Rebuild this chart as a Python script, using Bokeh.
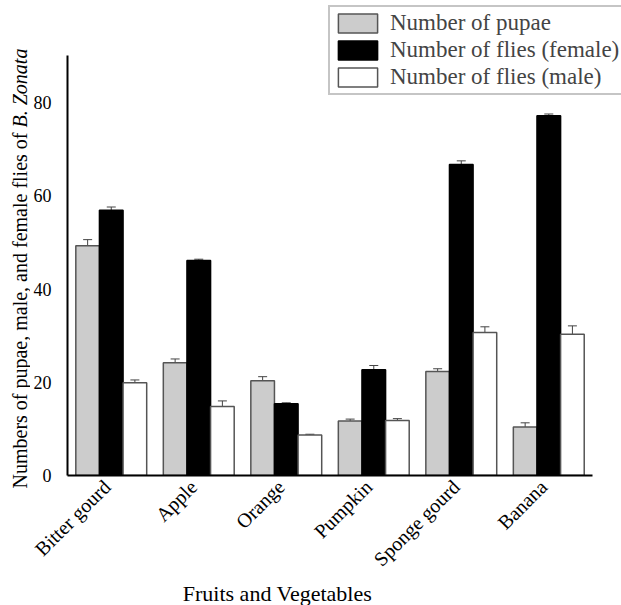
import math
from bokeh.plotting import figure
from bokeh.layouts import row, column
from bokeh.models import (ColumnDataSource, Range1d, FixedTicker,
                          Whisker, TeeHead, Legend, LegendItem)
from bokeh.core.properties import value
from bokeh.transform import dodge
from bokeh.embed import file_html
from bokeh.resources import INLINE

categories = ["Bitter gourd", "Apple", "Orange", "Pumpkin", "Sponge gourd", "Banana"]
pupae = [49.3, 24.2, 20.3, 11.7, 22.3, 10.4]
pupae_err = [1.3, 0.8, 0.9, 0.4, 0.6, 0.9]
female = [56.9, 46.1, 15.4, 22.7, 66.7, 77.2]
female_err = [0.7, 0.3, 0.2, 0.9, 0.8, 0.35]
male = [19.9, 14.8, 8.7, 11.8, 30.7, 30.3]
male_err = [0.6, 1.2, 0.15, 0.4, 1.2, 1.8]
y_ticks = [0, 20, 40, 60, 80]

series_names = ["Number of pupae", "Number of flies (female)", "Number of flies (male)"]
y_title_main = "Numbers of pupae, male, and female flies of "
y_title_species = "B. Zonata"
x_title = "Fruits and Vegetables"

fills = ["#cccccc", "#000000", "#ffffff"]
outlines = ["#555555", "#000000", "#555555"]
FONT = "Liberation Serif"

# category slot centres on a numeric axis (one unit per category)
centres = [i + 0.5 for i in range(len(categories))]
label_pos = [c - 0.06 for c in centres]

# ---------------- main chart ----------------
p = figure(x_range=Range1d(0, 6.331), y_range=Range1d(0, 101.9),
           width=591, height=581, output_backend="svg", toolbar_location=None,
           min_border_left=36, min_border_right=0, min_border_top=0,
           min_border_bottom=102)
p.outline_line_color = None
p.xgrid.grid_line_color = None
p.ygrid.grid_line_color = None
p.background_fill_color = "white"

src = ColumnDataSource(dict(
    x=centres,
    pupae=pupae, female=female, male=male,
    pupae_hi=[v + e for v, e in zip(pupae, pupae_err)],
    pupae_lo=[v - e for v, e in zip(pupae, pupae_err)],
    female_hi=[v + e for v, e in zip(female, female_err)],
    female_lo=[v - e for v, e in zip(female, female_err)],
    male_hi=[v + e for v, e in zip(male, male_err)],
    male_lo=[v - e for v, e in zip(male, male_err)],
))

W = 0.27
keys = ["pupae", "female", "male"]
offsets = [-W, 0.0, W]
items = []
for k, off, fc, lc, name in zip(keys, offsets, fills, outlines, series_names):
    r = p.vbar(x=dodge("x", off), top=k, bottom=0, width=W,
               source=src, fill_color=fc, line_color=lc, line_width=1.5)
    items.append(LegendItem(label=name, renderers=[r]))
    wh = Whisker(source=src, base=dodge("x", off),
                 upper=k + "_hi", lower=k + "_lo", line_color="#444444", line_width=1,
                 upper_head=TeeHead(size=9, line_color="#444444", line_width=1),
                 lower_head=TeeHead(size=9, line_color="#444444", line_width=1))
    p.add_layout(wh)

legend = Legend(items=items, location=(261, 380), orientation="vertical",
                label_text_font=FONT, label_text_font_size="23px",
                glyph_width=49, glyph_height=24, label_height=24, spacing=1,
                padding=3, margin=0, label_standoff=8,
                border_line_color="#8c8c8c", border_line_width=2,
                background_fill_alpha=1.0)
p.add_layout(legend, "center")

# x axis (categories)
p.xaxis.ticker = FixedTicker(ticks=label_pos)
p.xaxis.major_label_overrides = {c: name for c, name in zip(label_pos, categories)}
p.xaxis.bounds = (0, len(categories))
p.xaxis.axis_line_color = "black"
p.xaxis.axis_line_width = 2
p.xaxis.major_tick_line_color = None
p.xaxis.minor_tick_line_color = None
p.xaxis.major_tick_out = 0
p.xaxis.major_tick_in = 0
p.xaxis.major_label_orientation = math.pi / 4
p.xaxis.major_label_text_font = FONT
p.xaxis.major_label_text_font_size = "20px"
p.xaxis.major_label_text_color = "black"
p.xaxis.major_label_standoff = 8

# y axis
p.yaxis.ticker = FixedTicker(ticks=y_ticks)
p.yaxis.bounds = (0, 90)
p.yaxis.axis_line_color = "black"
p.yaxis.axis_line_width = 2
p.yaxis.major_tick_line_color = None
p.yaxis.minor_tick_line_color = None
p.yaxis.major_tick_out = 0
p.yaxis.major_tick_in = 0
p.yaxis.major_label_text_font = FONT
p.yaxis.major_label_text_font_size = "18px"
p.yaxis.major_label_text_color = "black"
p.yaxis.major_label_standoff = 16

# ---------------- y-axis title strip ----------------
yt = figure(width=30, height=605, x_range=Range1d(0, 30), y_range=Range1d(0, 605),
            x_axis_type=None, y_axis_type=None, output_backend="svg",
            toolbar_location=None, min_border=0)
yt.outline_line_color = None
yt.xgrid.grid_line_color = None
yt.ygrid.grid_line_color = None
yt.text(x=[19.5], y=[605 - 488], text=[y_title_main], angle=math.pi / 2,
        text_align="left", text_baseline="middle", text_font=value(FONT),
        text_font_size=value("20px"), text_color="black")
yt.text(x=[19.5], y=[605 - 127], text=[y_title_species], angle=math.pi / 2,
        text_align="left", text_baseline="middle", text_font=value(FONT),
        text_font_style="italic", text_font_size=value("20px"), text_color="black")

# ---------------- x-axis title strip ----------------
xt = figure(width=591, height=24, x_range=Range1d(0, 591), y_range=Range1d(0, 24),
            x_axis_type=None, y_axis_type=None, output_backend="svg",
            toolbar_location=None, min_border=0)
xt.outline_line_color = None
xt.xgrid.grid_line_color = None
xt.ygrid.grid_line_color = None
xt.text(x=[224], y=[12], text=[x_title], text_align="center",
        text_baseline="middle", text_font=value(FONT),
        text_font_size=value("22px"), text_color="black")

layout = row(yt, column(p, xt, spacing=0), spacing=0)
open("out.html", "w").write(file_html(layout, INLINE))
